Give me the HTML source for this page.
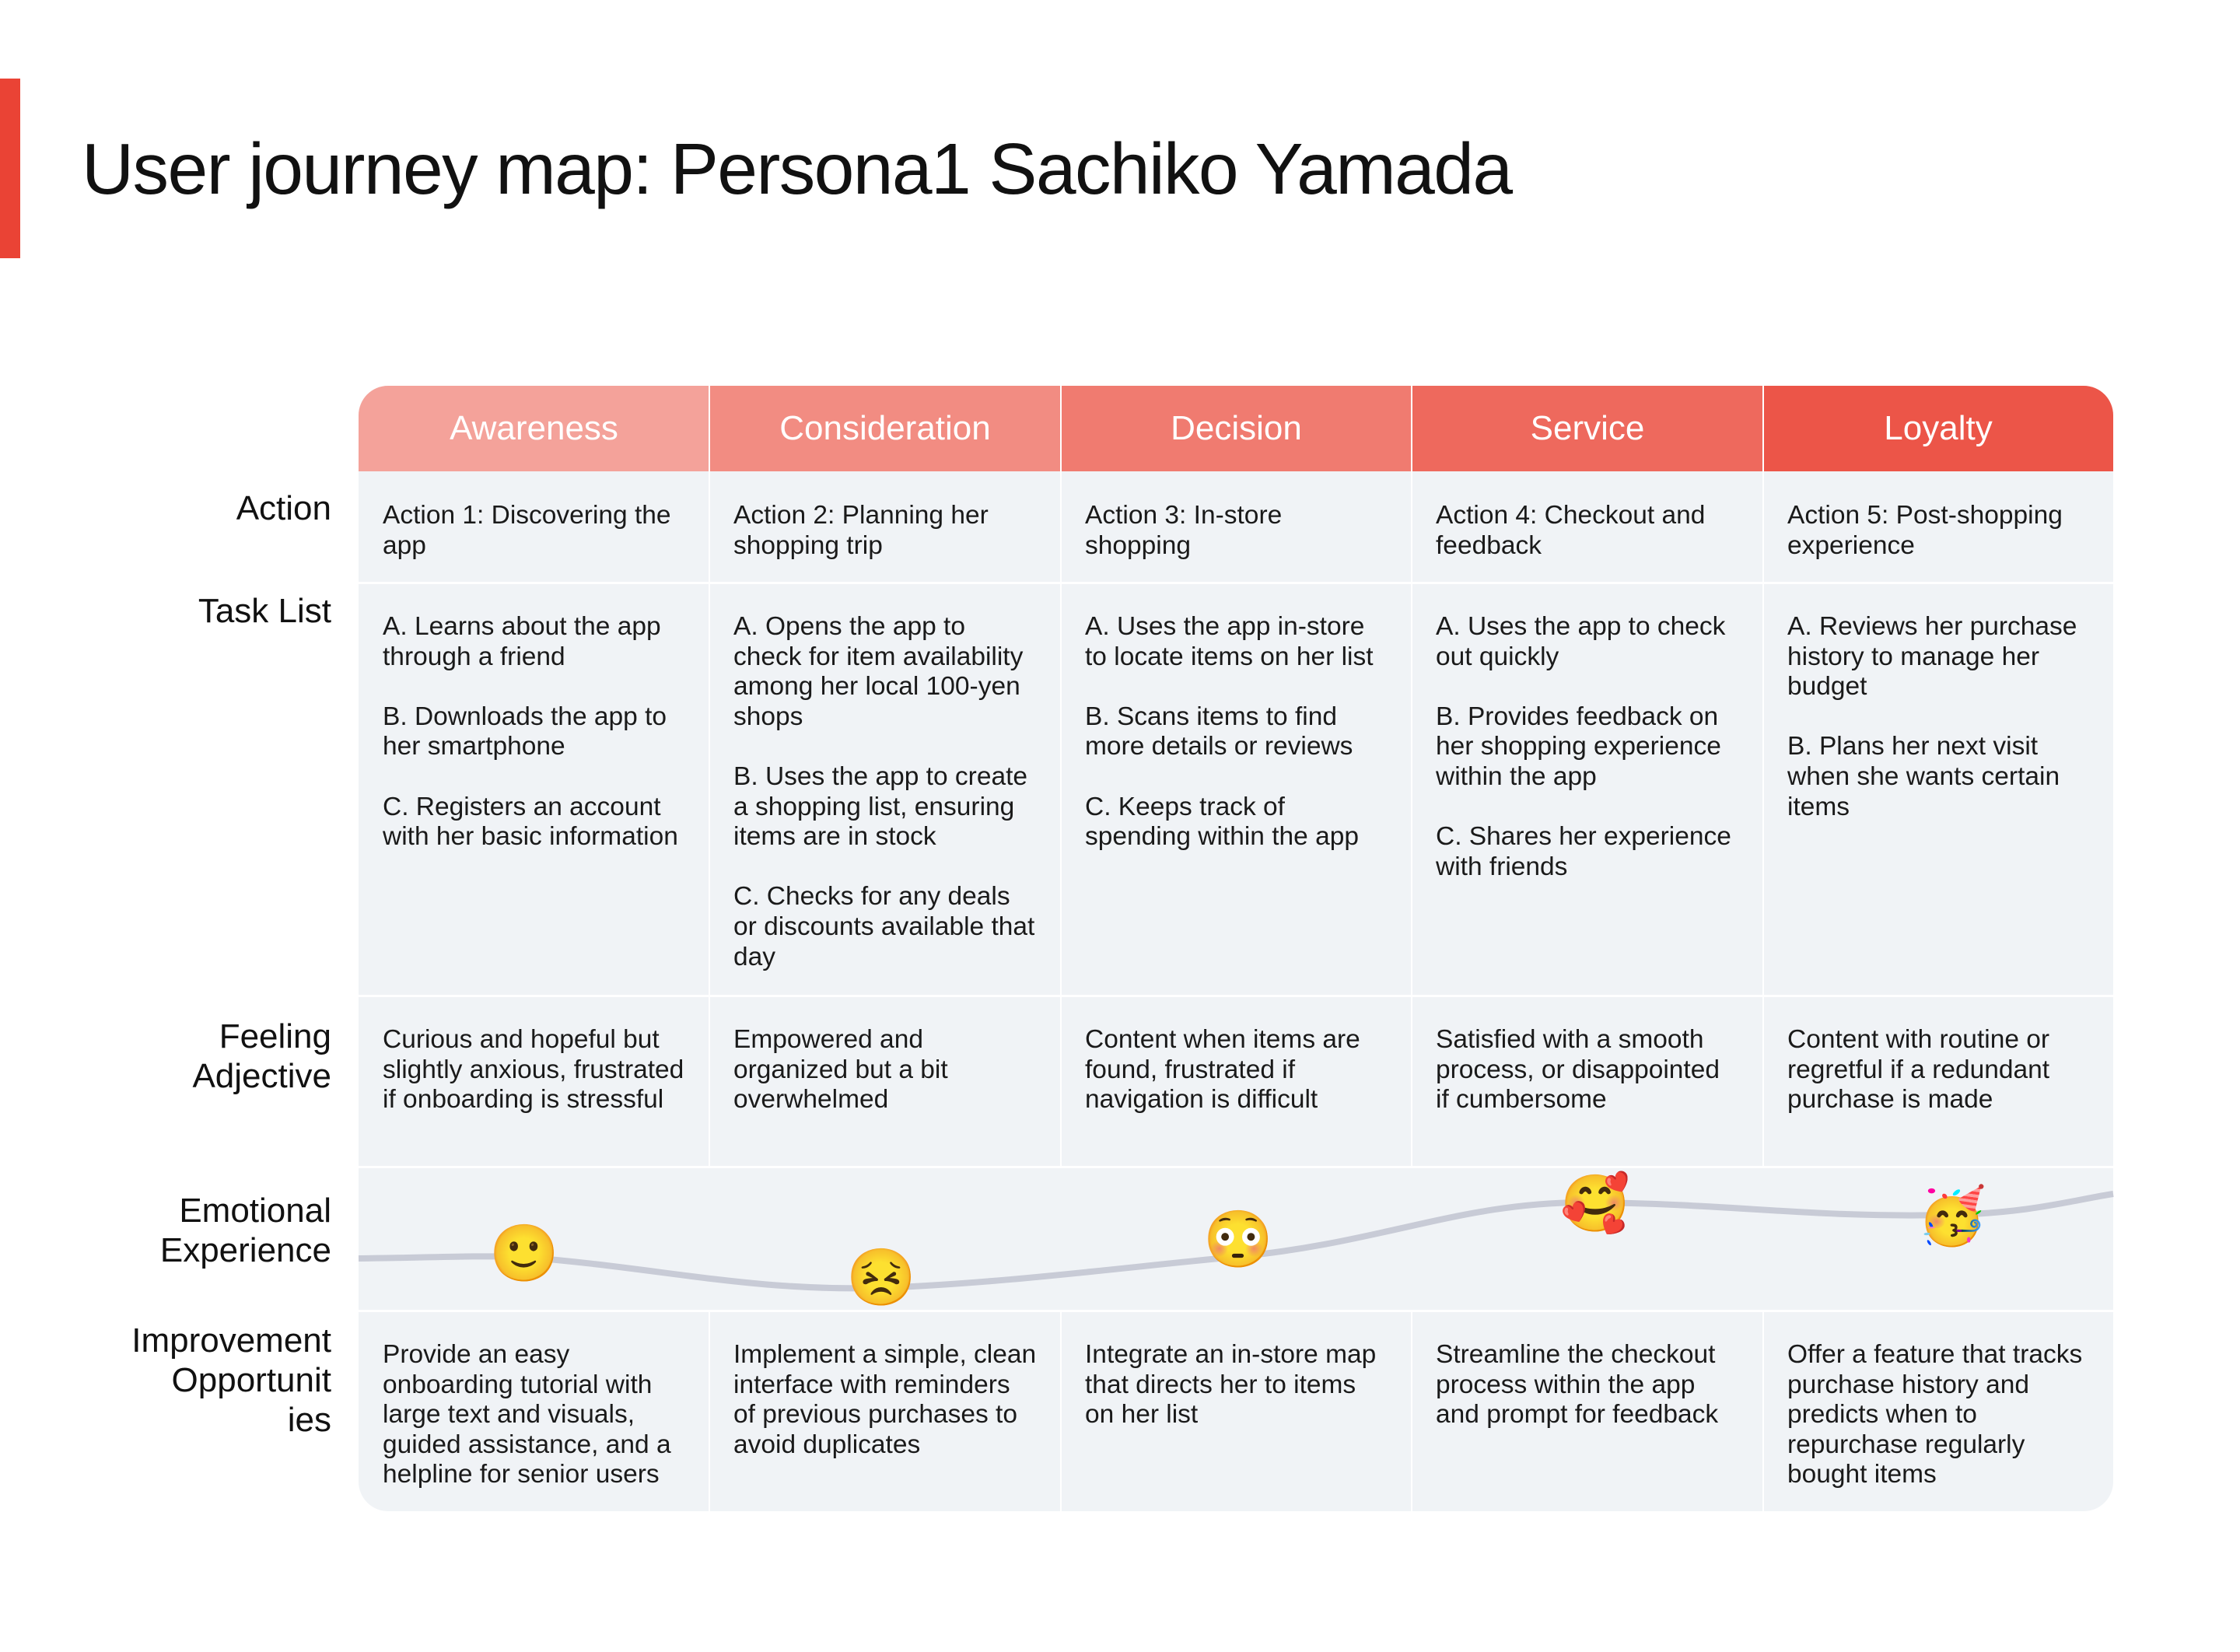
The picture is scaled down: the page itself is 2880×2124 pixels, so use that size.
<!DOCTYPE html>
<html><head><meta charset="utf-8"><style>
body{margin:0;width:2880px;height:2124px;background:#fff;position:relative;font-family:"Liberation Sans",sans-serif;overflow:hidden}
.bar{position:absolute;left:0;top:101px;width:26px;height:231px;background:#EA4335}
h1{position:absolute;left:105px;top:164px;margin:0;font-weight:400;font-size:93px;letter-spacing:-1.6px;color:#111;white-space:nowrap}
.tbl{position:absolute;left:461px;top:496px;width:2256px;height:1447px;border-radius:38px;overflow:hidden;background:#F0F3F6}
.h{position:absolute;top:0;height:110px;color:#fff;font-size:44px;text-align:center;line-height:110px}
.c{position:absolute;box-sizing:border-box;padding:38px 30px 0 31px;font-size:33.5px;line-height:38.6px;color:#1a1a1a}
.vl{position:absolute;width:2px;background:#fff}
.hl{position:absolute;left:0;width:2256px;height:3px;background:#fff}
.lb{position:absolute;right:2454px;text-align:right;font-size:44px;line-height:51px;color:#111}
.e{position:absolute;font-size:72px;line-height:82px;width:82px;text-align:center;font-family:"Noto Color Emoji","DejaVu Sans",sans-serif}
</style></head><body>
<div class="bar"></div>
<h1>User journey map: Persona1 Sachiko Yamada</h1>
<div class="lb" style="top:628px">Action</div>
<div class="lb" style="top:760px">Task List</div>
<div class="lb" style="top:1307px">Feeling<br>Adjective</div>
<div class="lb" style="top:1531px">Emotional<br>Experience</div>
<div class="lb" style="top:1698px">Improvement<br>Opportunit<br>ies</div>
<div class="tbl">
<div class="h" style="left:0;width:451px;background:#F4A29A">Awareness</div>
<div class="h" style="left:451px;width:452px;background:#F28C82">Consideration</div>
<div class="h" style="left:903px;width:451px;background:#F07B70">Decision</div>
<div class="h" style="left:1354px;width:452px;background:#EE695D">Service</div>
<div class="h" style="left:1806px;width:450px;background:#EC5548">Loyalty</div>

<div class="c" style="left:0;top:110px;width:451px">Action 1: Discovering the app</div>
<div class="c" style="left:451px;top:110px;width:452px">Action 2: Planning her shopping trip</div>
<div class="c" style="left:903px;top:110px;width:451px">Action 3: In-store shopping</div>
<div class="c" style="left:1354px;top:110px;width:452px">Action 4: Checkout and feedback</div>
<div class="c" style="left:1806px;top:110px;width:450px">Action 5: Post-shopping experience</div>

<div class="c" style="left:0;top:253px;width:451px">A. Learns about the app through a friend<br><br>B. Downloads the app to her smartphone<br><br>C. Registers an account with her basic information</div>
<div class="c" style="left:451px;top:253px;width:452px">A. Opens the app to check for item availability among her local 100-yen shops<br><br>B. Uses the app to create a shopping list, ensuring items are in stock<br><br>C. Checks for any deals or discounts available that day</div>
<div class="c" style="left:903px;top:253px;width:451px">A. Uses the app in-store to locate items on her list<br><br>B. Scans items to find more details or reviews<br><br>C. Keeps track of spending within the app</div>
<div class="c" style="left:1354px;top:253px;width:452px">A. Uses the app to check out quickly<br><br>B. Provides feedback on her shopping experience within the app<br><br>C. Shares her experience with friends</div>
<div class="c" style="left:1806px;top:253px;width:450px">A. Reviews her purchase history to manage her budget<br><br>B. Plans her next visit when she wants certain items</div>

<div class="c" style="left:0;top:784px;width:451px">Curious and hopeful but slightly anxious, frustrated if onboarding is stressful</div>
<div class="c" style="left:451px;top:784px;width:452px">Empowered and organized but a bit overwhelmed</div>
<div class="c" style="left:903px;top:784px;width:451px">Content when items are found, frustrated if navigation is difficult</div>
<div class="c" style="left:1354px;top:784px;width:452px">Satisfied with a smooth process, or disappointed if cumbersome</div>
<div class="c" style="left:1806px;top:784px;width:450px">Content with routine or regretful if a redundant purchase is made</div>

<div class="c" style="left:0;top:1189px;width:451px">Provide an easy onboarding tutorial with large text and visuals, guided assistance, and a helpline for senior users</div>
<div class="c" style="left:451px;top:1189px;width:452px">Implement a simple, clean interface with reminders of previous purchases to avoid duplicates</div>
<div class="c" style="left:903px;top:1189px;width:451px">Integrate an in-store map that directs her to items on her list</div>
<div class="c" style="left:1354px;top:1189px;width:452px">Streamline the checkout process within the app and prompt for feedback</div>
<div class="c" style="left:1806px;top:1189px;width:450px">Offer a feature that tracks purchase history and predicts when to repurchase regularly bought items</div>

<div class="vl" style="left:450px;top:0;height:1004px"></div>
<div class="vl" style="left:902px;top:0;height:1004px"></div>
<div class="vl" style="left:1353px;top:0;height:1004px"></div>
<div class="vl" style="left:1805px;top:0;height:1004px"></div>
<div class="vl" style="left:450px;top:1189px;height:260px"></div>
<div class="vl" style="left:902px;top:1189px;height:260px"></div>
<div class="vl" style="left:1353px;top:1189px;height:260px"></div>
<div class="vl" style="left:1805px;top:1189px;height:260px"></div>
<div class="hl" style="top:252px"></div>
<div class="hl" style="top:783px"></div>
<div class="hl" style="top:1003px"></div>
<div class="hl" style="top:1188px"></div>
</div>
<svg style="position:absolute;left:0;top:0" width="2880" height="2124">
<path d="M461,1618 C560,1617 600,1614 670,1616 C850,1630 960,1660 1129,1656 C1290,1650 1440,1630 1588,1616 C1780,1598 1880,1544 2047,1546 C2230,1548 2330,1566 2506,1562 C2610,1560 2670,1542 2717,1535" fill="none" stroke="#C8CBD6" stroke-width="8"/>
</svg>
<div class="e" style="left:629px;top:1571px">🙂</div>
<div class="e" style="left:1088px;top:1602px">😣</div>
<div class="e" style="left:1547px;top:1553px">😳</div>
<div class="e" style="left:2006px;top:1507px">🥰</div>
<div class="e" style="left:2465px;top:1523px">🥳</div>
</body></html>
